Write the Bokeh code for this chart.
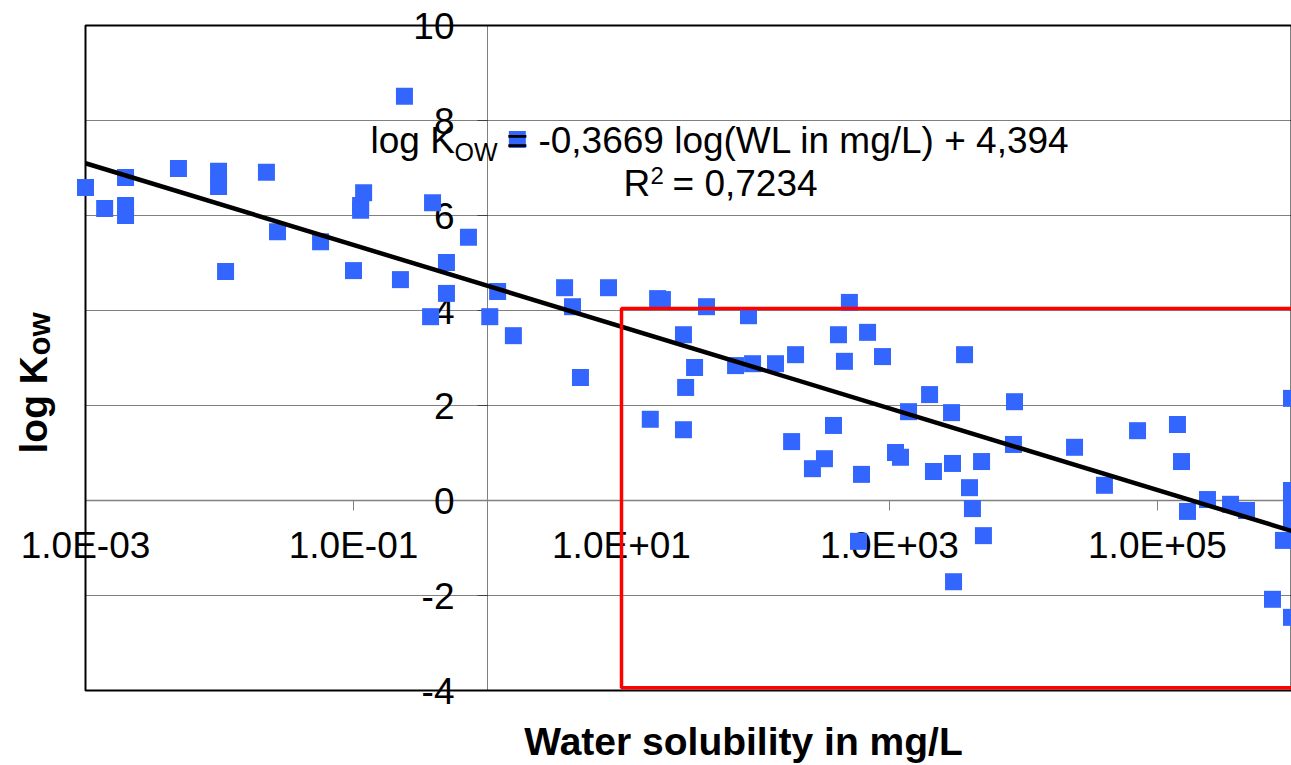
import numpy as np
from bokeh.plotting import figure
from bokeh.models import FixedTicker, CustomJSTickFormatter, Label, Range1d
from bokeh.embed import file_html
from bokeh.resources import INLINE

# ---------------- data ----------------
water_solubility = [
    1.00e-3, 1.39e-3, 1.99e-3, 1.99e-3, 1.99e-3, 4.94e-3, 9.84e-3, 9.84e-3, 1.11e-2, 2.24e-2,
    2.71e-2, 5.68e-2, 1.00e-1, 0.113, 0.113, 0.119, 0.224, 0.240, 0.389, 0.376,
    0.494, 0.494, 0.721, 1.67, 1.04, 1.19, 1.56, 3.76, 4.31, 4.94,
    8.00, 18.6, 20.2, 29.0, 35.1, 30.1, 16.4, 29.0, 43.1, 88.7,
    71.0, 95.1, 141, 199, 186, 502, 416, 686, 461, 887,
    382, 327, 266, 618, 587, 1109, 1208, 1387, 1991, 2904,
    3631, 2128, 2951, 4864, 3954, 4159, 5023, 3006, 8570, 8414,
    24040, 40180, 70960, 140900, 151000, 167500, 236000, 350800, 461300, 871000,
    721100, 1.0e6, 1.0e6, 1.0e6, 1.0e6, 1.0e6,
]
log_kow = [
    6.59, 6.15, 6.80, 6.21, 6.00, 6.99, 6.93, 6.61, 4.82, 6.91,
    5.66, 5.45, 4.84, 6.21, 6.11, 6.48, 4.65, 8.51, 6.27, 3.87,
    5.01, 4.36, 5.54, 7.60, 3.87, 4.40, 3.47, 4.48, 4.08, 2.59,
    4.48, 4.25, 4.23, 3.49, 2.80, 2.38, 1.71, 1.49, 4.08, 3.89,
    2.84, 2.88, 2.88, 3.07, 1.24, 4.17, 3.49, 3.54, 2.93, 3.03,
    1.58, 0.88, 0.67, 0.55, -0.86, 1.01, 0.91, 1.87, 2.23, 1.85,
    3.07, 0.61, 0.78, 0.82, 0.27, -0.17, -0.74, -1.71, 2.08, 1.18,
    1.12, 0.32, 1.47, 1.60, 0.82, -0.23, 0.02, -0.08, -0.21, -0.84,
    -2.08, -2.46, 2.15, 0.21, -0.13, -0.46,
]

x_limits = [1e-3, 1e6]          # plot-area extent (mg/L)
y_limits = [-4, 10]             # plot-area extent (log Kow)
x_cross = 1                     # y axis crosses at WL = 1 mg/L
y_cross = 0                     # x axis crosses at log Kow = 0
x_tick_values = [1e-3, 1e-1, 1e1, 1e3, 1e5]
x_tick_labels = ["1.0E-03", "1.0E-01", "1.0E+01", "1.0E+03", "1.0E+05"]
y_tick_values = [-4, -2, 0, 2, 4, 6, 8, 10]

# drawn trend line (as it appears in the chart)
trend_intercept = 4.52
trend_slope = -0.86

# red highlight box
box_x = [10, 1e7]
box_y = [-3.94, 4.04]

eq_part1 = "log K"
eq_sub = "OW"
eq_part2 = "= -0,3669 log(WL in mg/L) + 4,394"
r2_part1 = "R"
r2_sup = "2"
r2_part2 = "= 0,7234"
x_title = "Water solubility in mg/L"
y_title = "log K"
y_title_sub = "ow"

FONT = "Liberation Sans"

# ---------------- layout (canvas px) ----------------
W, H = 1291, 765
FL, FT, FR, FB = 85, 25, 1291, 690   # plot area edges on the canvas

lx0, lx1 = np.log10(x_limits[0]), np.log10(x_limits[1])
ppd = (FR - FL) / (lx1 - lx0)                      # px per decade
ppu = (FB - FT) / (y_limits[1] - y_limits[0])      # px per log unit
view_x = [10 ** (lx0 - FL / ppd), 10 ** (lx1 + (W - FR) / ppd)]
view_y = [y_limits[0] - (H - FB) / ppu, y_limits[1] + FT / ppu]


def dx(px):
    return 10 ** (lx0 + (px - FL) / ppd)


def dy(py):
    return y_limits[1] - (py - FT) / ppu


p = figure(
    width=W, height=H,
    x_axis_type="log",
    x_range=Range1d(*view_x), y_range=Range1d(*view_y),
    output_backend="svg", toolbar_location=None,
    min_border_left=0, min_border_right=0, min_border_top=0, min_border_bottom=0,
    background_fill_color="white", border_fill_color="white",
)
p.outline_line_color = None
p.xgrid.visible = False
p.ygrid.visible = False

# dotted horizontal gridlines inside plot area
grid_y = [v for v in y_tick_values if v not in (y_cross, y_limits[0], y_limits[1])]
p.segment(x0=[x_limits[0]] * len(grid_y), x1=[x_limits[1]] * len(grid_y),
          y0=grid_y, y1=grid_y, line_color="black", line_dash="1 1", line_width=1)

# axes crossing inside the plot (Excel style)
xa = p.xaxis[0]
xa.fixed_location = y_cross
xa.bounds = tuple(x_limits)
xa.ticker = FixedTicker(ticks=x_tick_values, minor_ticks=[])
xa.formatter = CustomJSTickFormatter(
    args=dict(tick_vals=x_tick_values, tick_texts=x_tick_labels),
    code="""
    const i = tick_vals.findIndex((t) => Math.abs(Math.log10(t) - Math.log10(tick)) < 1e-6);
    return i >= 0 ? tick_texts[i] : "";
    """,
)
xa.axis_line_color = "#808080"
xa.axis_line_width = 1.5
xa.major_tick_line_color = "#808080"
xa.major_tick_out = 10
xa.major_tick_in = 0
xa.minor_tick_line_color = None
xa.major_label_text_font = FONT
xa.major_label_text_font_size = "37px"
xa.major_label_text_color = "black"
xa.major_label_standoff = 14
xa.level = "underlay"

ya = p.yaxis[0]
ya.fixed_location = x_cross
ya.bounds = tuple(y_limits)
ya.ticker = FixedTicker(ticks=y_tick_values, minor_ticks=[])
ya.formatter = CustomJSTickFormatter(code="return String(tick);")
ya.axis_line_color = "#808080"
ya.axis_line_width = 1
ya.major_tick_line_color = "#808080"
ya.major_tick_out = 10
ya.major_tick_in = 0
ya.minor_tick_line_color = None
ya.major_label_text_font = FONT
ya.major_label_text_font_size = "37px"
ya.major_label_text_color = "black"
ya.major_label_standoff = 23
ya.level = "underlay"

# plot-area border
p.quad(left=[x_limits[0]], right=[x_limits[1]], bottom=[y_limits[0]], top=[y_limits[1]],
       fill_color=None, line_color="black", line_width=2)

# data
p.scatter(water_solubility, log_kow, marker="square", size=17,
          fill_color="#3366FF", line_color=None)

trend_x = np.array(x_limits)
trend_y = trend_intercept + trend_slope * np.log10(trend_x)
p.line(trend_x, trend_y, line_color="black", line_width=4.5)

p.quad(left=[box_x[0]], right=[box_x[1]], bottom=[box_y[0]], top=[box_y[1]],
       fill_color=None, line_color="#FF0000", line_width=3.5)

BASE_SHIFT = 0.32   # Label's alphabetic anchor sits this many em below the glyph baseline


def add_label(text, px, py, size, bold=False, angle=0.0, align="left"):
    if angle == 0.0:
        py = py - BASE_SHIFT * size
    else:
        px = px - BASE_SHIFT * size
    p.add_layout(Label(
        x=dx(px), y=dy(py), text=text, text_font=FONT,
        text_font_size=f"{size}px", text_font_style="bold" if bold else "normal",
        text_color="black", text_align=align, text_baseline="alphabetic",
        angle=angle,
    ))


# regression equation
add_label(eq_part1, 370, 152, 37)
add_label(eq_sub, 454, 159, 25)
add_label(eq_part2, 506, 152, 37)
add_label(r2_part1, 623, 195, 37)
add_label(r2_sup, 650, 183, 24)
add_label(r2_part2, 672, 195, 37)

# axis titles
add_label(x_title, 743, 753, 39, bold=True, align="center")
add_label(y_title, 45, 453, 39, bold=True, angle=np.pi / 2)
add_label(y_title_sub, 49, 355, 31, bold=True, angle=np.pi / 2)

open("out.html", "w").write(file_html(p, INLINE))
